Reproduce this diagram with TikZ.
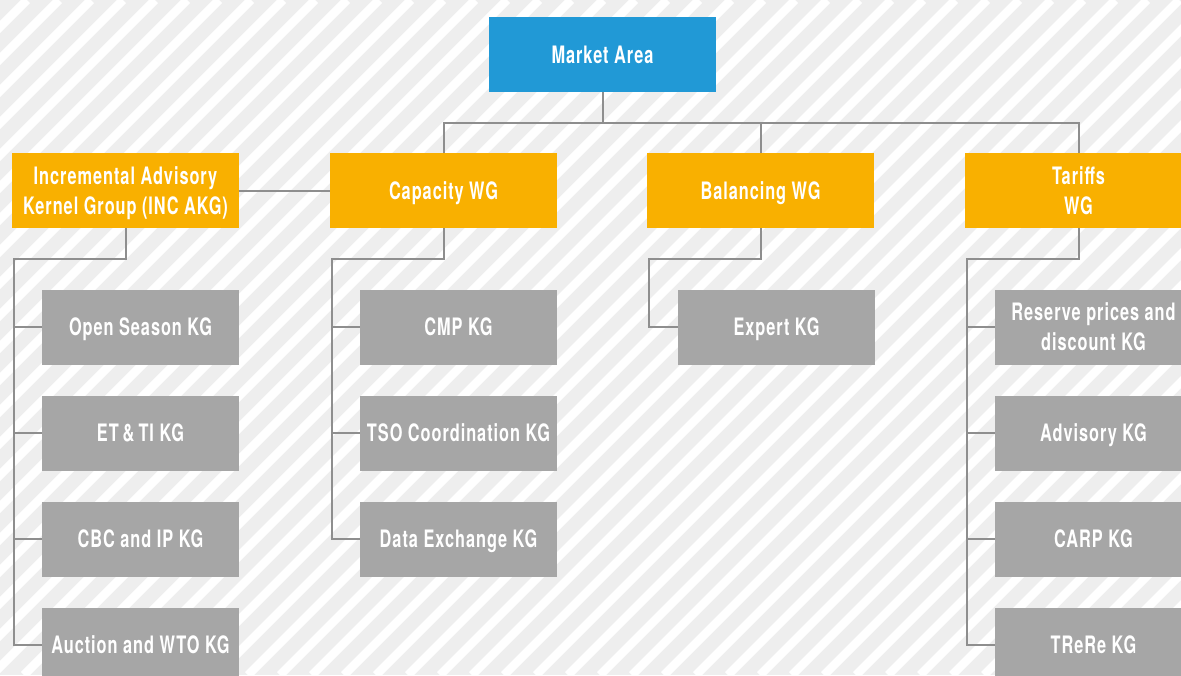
\documentclass[tikz,border=0pt]{standalone}
\usepackage{fontspec}
\setmainfont{TeX Gyre Heros}[FakeStretch=0.68, LetterSpace=4]
\definecolor{bgray}{HTML}{EEEEEE}
\definecolor{areablue}{HTML}{2199D6}
\definecolor{wgorange}{HTML}{F9B000}
\definecolor{kggray}{HTML}{A6A6A6}
\definecolor{linkgray}{HTML}{8E8E8E}
\tikzset{
  base/.style={inner sep=0pt, text=white, align=center, text depth=0pt,
    font=\fontsize{24}{30}\selectfont\bfseries},
  areabox/.style={base, fill=areablue, minimum width=227pt, minimum height=75pt},
  wgbox/.style={base, fill=wgorange, minimum width=227pt, minimum height=75pt},
  kgbox/.style={base, fill=kggray, minimum width=197pt, minimum height=75pt},
  link/.style={draw=linkgray, line width=2pt},
}
\begin{document}
\begin{tikzpicture}[x=1pt, y=-1pt]
\useasboundingbox (0,0) rectangle (1181,675);
\clip (0,0) rectangle (1181,675);
% striped backdrop
\fill[bgray] (0,0) rectangle (1181,675);
\foreach \k in {0,...,58} {
  \pgfmathsetmacro{\c}{-648+32*\k}
  \draw[white, line width=8.5pt] (\c,675) -- (\c+675,0);
}
% top level
\node[areabox] (area) at (602.5,54.5) {Market Area};
% working groups
\node[wgbox] (inc) at (125.5,190.5) {Incremental Advisory\\Kernel Group (INC AKG)};
\node[wgbox] (cap) at (443.5,190.5) {Capacity WG};
\node[wgbox] (bal) at (760.5,190.5) {Balancing WG};
\node[wgbox] (tar) at (1078.5,190.5) {Tariffs\\WG};
% kernel groups
\node[kgbox] (os)  at (140.5,327) {Open Season KG};
\node[kgbox] (et)  at (140.5,433) {ET\,\&\,TI KG};
\node[kgbox] (cbc) at (140.5,539) {CBC and IP KG};
\node[kgbox] (auc) at (140.5,645) {Auction and WTO KG};
\node[kgbox] (cmp) at (458.5,327) {CMP KG};
\node[kgbox] (tso) at (458.5,433) {TSO Coordination KG};
\node[kgbox] (dx)  at (458.5,539) {Data Exchange KG};
\node[kgbox] (exp) at (776.5,327) {Expert KG};
\node[kgbox] (res) at (1093.5,327) {Reserve prices and\\discount KG};
\node[kgbox] (adv) at (1093.5,433) {Advisory KG};
\node[kgbox] (carp) at (1093.5,539) {CARP KG};
\node[kgbox] (trere) at (1093.5,645) {TReRe KG};
% connectors from the market area
\coordinate (bus) at (0,123);
\draw[link] (area.south) -- (area.south |- bus) -| (cap.north);
\draw[link] (area.south |- bus) -| (bal.north);
\draw[link] (area.south |- bus) -| (tar.north);
\draw[link] (inc.east) -- (cap.west);
% kernel group trees
\coordinate (rail) at (0,259);
\coordinate (incx) at (14,0);
\coordinate (capx) at (332,0);
\coordinate (balx) at (649,0);
\coordinate (tarx) at (967,0);
\draw[link] (inc.south) -- (inc.south |- rail) -- (incx |- rail) |- (auc.west);
\draw[link] (incx |- os.west) -- (os.west);
\draw[link] (incx |- et.west) -- (et.west);
\draw[link] (incx |- cbc.west) -- (cbc.west);
\draw[link] (cap.south) -- (cap.south |- rail) -- (capx |- rail) |- (dx.west);
\draw[link] (capx |- cmp.west) -- (cmp.west);
\draw[link] (capx |- tso.west) -- (tso.west);
\draw[link] (bal.south) -- (bal.south |- rail) -- (balx |- rail) |- (exp.west);
\draw[link] (tar.south) -- (tar.south |- rail) -- (tarx |- rail) |- (trere.west);
\draw[link] (tarx |- res.west) -- (res.west);
\draw[link] (tarx |- adv.west) -- (adv.west);
\draw[link] (tarx |- carp.west) -- (carp.west);
\end{tikzpicture}
\end{document}
